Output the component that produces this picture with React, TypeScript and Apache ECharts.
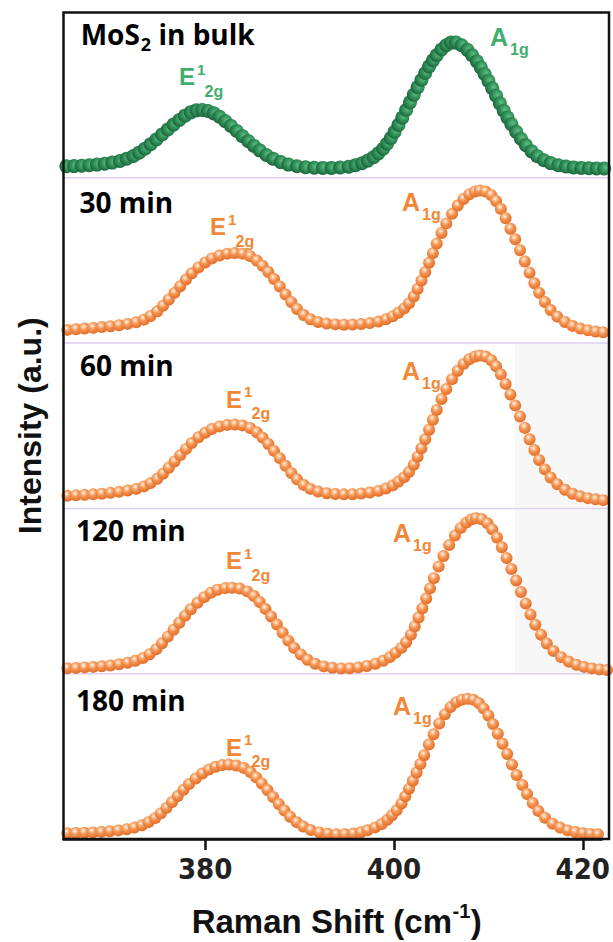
import React, { useEffect, useRef } from "react";
import * as echarts from "echarts";

// ---------- data ----------
const X_MIN = 365;
const X_MAX = 422;
const xTickValues = [380, 400, 420];
const panelLabels = ["MoS2 in bulk", "30 min", "60 min", "120 min", "180 min"];

const bulk: number[][] = [
  [365.3, 7], [366.1, 7.1], [366.9, 7.3], [367.7, 7.6], [368.5, 8], [369.3, 8.5], [370.1, 9.2], [370.9, 10.2], [371.6, 11.5], [372.3, 13.2],
  [372.9, 15.2], [373.5, 17.6], [374.1, 20.3], [374.7, 23.2], [375.3, 26.2], [375.9, 29.2], [376.5, 32.2], [377.1, 35], [377.7, 37.6], [378.3, 39.6], [378.9, 40.8], [379.5, 41],
  [380.1, 40.4], [380.7, 39], [381.3, 36.9], [381.9, 34.3], [382.5, 31.4], [383.1, 28.3], [383.7, 25.2], [384.3, 22.2], [384.9, 19.3], [385.5, 16.6], [386.2, 13.8], [386.9, 11.5], [387.7, 9.5], [388.5, 8], [389.4, 7],
  [390.3, 6.4], [391.2, 6.1], [392.1, 6], [393.0, 6], [393.9, 6.2], [394.8, 6.7],
  [395.5, 7.6], [396.2, 8.8], [396.8, 10.4], [397.4, 12.4], [397.9, 14.8], [398.4, 17.6], [398.8, 20.6], [399.2, 24], [399.6, 27.8], [400.0, 32], [400.4, 36.4], [400.8, 41], [401.2, 45.6], [401.6, 50.2], [402.0, 54.8], [402.4, 59.2], [402.8, 63.4], [403.2, 67.4], [403.6, 71], [404.0, 74.2], [404.5, 77.6], [405.0, 80.2], [405.5, 81.8], [406.0, 81.8],
  [406.6, 80.2], [407.2, 77.4], [407.7, 74.2], [408.2, 70.4], [408.6, 66.8], [409.0, 62.8], [409.4, 58.6], [409.8, 54.2], [410.2, 49.6], [410.6, 45], [411.0, 40.6], [411.4, 36.4], [411.8, 32.4], [412.3, 27.8], [412.8, 23.6], [413.3, 19.8], [413.9, 16], [414.5, 13], [415.2, 10.6], [415.9, 8.9], [416.7, 7.6], [417.5, 6.8], [418.3, 6.3], [419.1, 6], [419.9, 5.8], [420.7, 5.7], [421.5, 5.6],
];

const min30: number[][] = [
  [365.4, 8], [366.3, 8.4], [367.2, 8.8], [368.1, 9.2], [369.0, 9.7], [369.9, 10.2], [370.8, 10.8], [371.7, 11.6], [372.6, 12.6], [373.4, 14.2], [374.1, 16.4], [374.8, 19.2],
  [375.4, 22.6], [376.0, 26.4], [376.6, 30.4], [377.2, 34.4], [377.8, 38.4], [378.4, 42.2], [379.1, 45.8], [379.8, 48.8], [380.5, 51.2], [381.3, 53], [382.1, 54.1], [382.9, 54.5],
  [383.7, 54.1], [384.5, 52.6], [385.2, 50], [385.8, 46.8], [386.4, 43], [387.0, 38.8], [387.6, 34.2], [388.2, 29.4], [388.8, 24.8], [389.4, 20.6], [390.1, 17], [390.8, 14.4], [391.6, 12.8],
  [392.5, 11.8], [393.4, 11.3], [394.3, 11.1], [395.2, 11.2], [396.1, 11.5], [397.0, 12.1], [397.9, 13], [398.7, 14.4], [399.4, 16.2], [400.0, 18.4], [400.6, 21],
  [401.1, 24], [401.6, 28.2], [402.0, 32.8], [402.4, 37.8], [402.8, 43], [403.2, 48.6], [403.6, 54.4], [404.0, 60.2], [404.5, 66.6], [405.0, 72.4], [405.6, 78.2], [406.2, 83.2], [406.8, 87.2], [407.4, 90], [408.0, 91.7], [408.5, 92.3],
  [409.1, 91.7], [409.7, 89.5], [410.2, 86], [410.7, 81.2], [411.2, 75.5], [411.7, 69.2], [412.2, 62.8], [412.7, 56.2], [413.2, 49.4], [413.7, 42.6], [414.2, 36.2], [414.7, 30.4], [415.3, 24.8], [415.9, 20], [416.6, 16], [417.4, 12.8], [418.2, 10.4], [419.0, 8.8], [419.8, 7.7], [420.6, 7], [421.4, 6.5],
];

const min60: number[][] = [
  [365.4, 7.6], [366.3, 7.9], [367.2, 8.2], [368.1, 8.5], [369.0, 8.9], [369.9, 9.4], [370.8, 10], [371.7, 10.8], [372.6, 11.8], [373.4, 13.3], [374.1, 15.3], [374.8, 17.9],
  [375.4, 21], [376.0, 24.6], [376.6, 28.4], [377.2, 32.2], [377.8, 36], [378.4, 39.6], [379.1, 43], [379.8, 45.8], [380.5, 48], [381.3, 49.6], [382.1, 50.5], [382.9, 50.7],
  [383.7, 50.2], [384.5, 48.6], [385.2, 46], [385.8, 42.8], [386.4, 39], [387.0, 34.8], [387.6, 30.4], [388.2, 25.8], [388.8, 21.4], [389.4, 17.6], [390.1, 14.2], [390.8, 11.8], [391.6, 10.2],
  [392.5, 9.2], [393.4, 8.7], [394.3, 8.5], [395.2, 8.6], [396.1, 9], [397.0, 9.6], [397.9, 10.6], [398.7, 12], [399.4, 13.9], [400.0, 16.2], [400.6, 18.9],
  [401.1, 22], [401.6, 26.4], [402.0, 31.2], [402.4, 36.4], [402.8, 41.8], [403.2, 47.6], [403.6, 53.6], [404.0, 59.6], [404.5, 66.2], [405.0, 72.2], [405.6, 78.2], [406.2, 83.3], [406.8, 87.4], [407.4, 90.2], [408.0, 91.9], [408.5, 92.5],
  [409.1, 91.9], [409.7, 89.6], [410.2, 86], [410.7, 81.1], [411.2, 75.3], [411.7, 68.9], [412.2, 62.3], [412.7, 55.6], [413.2, 48.7], [413.7, 41.8], [414.2, 35.3], [414.7, 29.3], [415.3, 23.6], [415.9, 18.7], [416.6, 14.6], [417.4, 11.3], [418.2, 8.9], [419.0, 7.3], [419.8, 6.2], [420.6, 5.5], [421.4, 5],
];

const min120: number[][] = [
  [365.4, 3.3], [366.3, 3.5], [367.2, 3.8], [368.1, 4.1], [369.0, 4.5], [369.9, 5], [370.8, 5.7], [371.7, 6.6], [372.5, 7.8], [373.3, 9.5], [374.0, 11.8], [374.7, 14.8],
  [375.3, 18.4], [375.9, 22.4], [376.5, 26.6], [377.1, 30.8], [377.7, 35], [378.3, 39], [379.0, 42.9], [379.7, 46.3], [380.4, 49], [381.1, 50.8], [381.9, 51.8], [382.6, 52],
  [383.4, 51.5], [384.2, 49.8], [384.9, 47], [385.5, 43.4], [386.1, 39.2], [386.7, 34.6], [387.3, 29.8], [387.9, 24.8], [388.5, 20], [389.1, 15.6], [389.8, 11.6], [390.5, 8.4], [391.3, 6],
  [392.2, 4.4], [393.1, 3.6], [394.0, 3.2], [394.9, 3.3], [395.8, 3.8], [396.7, 4.7], [397.6, 6], [398.4, 7.8], [399.1, 10], [399.7, 12.6], [400.3, 15.6],
  [400.8, 19], [401.3, 23.6], [401.7, 28.6], [402.1, 34], [402.5, 39.6], [402.9, 45.5], [403.3, 51.6], [403.7, 57.8], [404.2, 64.8], [404.7, 71.2], [405.3, 77.8], [405.9, 83.6], [406.5, 88.2], [407.1, 91.4], [407.6, 93.3], [408.1, 94],
  [408.7, 93.4], [409.3, 91], [409.8, 87.3], [410.3, 82.4], [410.8, 76.5], [411.3, 70], [411.8, 63.3], [412.3, 56.4], [412.8, 49.4], [413.3, 42.4], [413.8, 35.8], [414.3, 29.6], [414.9, 23.6], [415.5, 18.3], [416.2, 13.8], [417.0, 10], [417.8, 7.3], [418.6, 5.4], [419.4, 4.1], [420.2, 3.2], [421.0, 2.6], [421.8, 2.2],
];

const min180: number[][] = [
  [365.4, 3.5], [366.3, 3.6], [367.2, 3.8], [368.1, 4], [369.0, 4.3], [369.9, 4.7], [370.8, 5.2], [371.7, 5.9], [372.5, 6.9], [373.3, 8.3], [374.0, 10.2], [374.7, 12.6],
  [375.3, 15.5], [375.9, 18.8], [376.5, 22.4], [377.1, 26], [377.7, 29.7], [378.3, 33.2], [379.0, 36.6], [379.7, 39.6], [380.4, 42], [381.1, 43.7], [381.8, 44.7], [382.5, 45],
  [383.3, 44.5], [384.1, 43], [384.8, 40.5], [385.4, 37.3], [386.0, 33.6], [386.6, 29.6], [387.2, 25.4], [387.8, 21.2], [388.4, 17.2], [389.0, 13.5], [389.7, 10.2], [390.4, 7.5], [391.2, 5.4],
  [392.1, 4], [393.0, 3.2], [393.9, 2.8], [394.8, 2.9], [395.7, 3.3], [396.5, 4.1], [397.2, 5.3], [398.0, 7], [398.7, 9.1], [399.3, 11.6], [399.8, 14.4],
  [400.3, 17.5], [400.8, 21.5], [401.2, 25.8], [401.6, 30.4], [402.0, 35.2], [402.4, 40.2], [402.8, 45.4], [403.2, 50.7], [403.7, 57.2], [404.2, 63.4], [404.8, 69.8], [405.4, 75.4], [406.0, 79.8], [406.6, 82.8], [407.2, 84.3], [407.8, 84.8],
  [408.4, 84.3], [409.0, 82.2], [409.5, 79], [410.0, 74.7], [410.5, 69.5], [411.0, 63.7], [411.5, 57.6], [412.0, 51.4], [412.5, 45], [413.0, 38.7], [413.6, 32.7], [414.1, 27.2], [414.7, 21.8], [415.3, 17], [416.0, 12.8], [416.8, 9.3], [417.6, 6.9], [418.4, 5.2], [419.2, 4.2], [420.0, 3.5], [420.8, 3.1], [421.6, 2.9],
];

const panelData = [bulk, min30, min60, min120, min180];

// ---------- layout ----------
const PLOT_LEFT = 63.5;
const PLOT_RIGHT = 609;
const PLOT_TOP = 12.5;
const PLOT_BOTTOM = 839;
const PANEL_H = (PLOT_BOTTOM - PLOT_TOP) / 5;

const GREEN_LABEL = "#3fae6e";
const ORANGE_LABEL = "#f08838";
const SANS = '"Liberation Sans", Arial, sans-serif';
const TITLE_FONT_FAMILY = '"Open Sans", "Noto Sans", sans-serif';

function textEl(text: string, x: number, y: number, font: string, fill: string, align = "left", z = 50, extra: any = {}) {
  return {
    type: "text",
    x,
    y,
    z,
    silent: true,
    ...extra,
    style: {
      text,
      font,
      fill,
      align,
      verticalAlign: "middle",
      textAlign: align,
      textVerticalAlign: "middle",
    },
  };
}

export default function App() {
  const ref = useRef<HTMLDivElement>(null);

  useEffect(() => {
    document.body.style.margin = "0";
    const chart = echarts.init(ref.current!, null, { renderer: "svg" });

    const ctx = document.createElement("canvas").getContext("2d")!;
    const tw = (t: string, font: string) => {
      ctx.font = font;
      return ctx.measureText(t).width;
    };

    const orangeBall = new echarts.graphic.RadialGradient(0.42, 0.33, 0.64, [
      { offset: 0, color: "#fff6ee" },
      { offset: 0.2, color: "#fbcaa2" },
      { offset: 0.5, color: "#f49352" },
      { offset: 1, color: "#e3702a" },
    ]);
    const greenBall = new echarts.graphic.RadialGradient(0.6, 0.42, 0.62, [
      { offset: 0, color: "#62bd88" },
      { offset: 0.45, color: "#37985f" },
      { offset: 1, color: "#1a633a" },
    ]);

    const grids: any[] = [];
    const xAxes: any[] = [];
    const yAxes: any[] = [];
    const series: any[] = [];

    for (let i = 0; i < 5; i++) {
      grids.push({
        left: PLOT_LEFT,
        width: PLOT_RIGHT - PLOT_LEFT,
        top: PLOT_TOP + i * PANEL_H,
        height: PANEL_H,
        containLabel: false,
      });
      const isBottom = i === 4;
      xAxes.push({
        gridIndex: i,
        type: "value",
        min: X_MIN,
        max: X_MAX,
        show: isBottom,
        splitLine: { show: false },
        axisLine: { show: isBottom, lineStyle: { color: "#111", width: 2.5 } },
        axisTick: {
          show: isBottom,
          inside: false,
          length: 11,
          customValues: xTickValues,
          lineStyle: { color: "#111", width: 2.5 },
        },
        axisLabel: {
          show: isBottom,
          customValues: xTickValues,
          margin: 15,
          fontSize: 29,
          fontWeight: "bold",
          fontFamily: '"Liberation Sans Narrow", "DejaVu Sans Condensed", sans-serif',
          color: "#222",
        },
      });
      yAxes.push({
        gridIndex: i,
        type: "value",
        min: 0,
        max: 100,
        show: false,
        splitLine: { show: false },
      });
      series.push({
        type: "scatter",
        xAxisIndex: i,
        yAxisIndex: i,
        data: panelData[i],
        symbol: "circle",
        symbolSize: i === 0 ? 14 : 12,
        silent: true,
        z: 3,
        itemStyle: { color: i === 0 ? greenBall : orangeBall, opacity: 1 },
        emphasis: { disabled: true },
      });
    }

    const graphics: any[] = [];

    // faint gray backgrounds (60 min, 120 min panels, right part)
    [2, 3].forEach((i) => {
      graphics.push({
        type: "rect",
        z: 0,
        silent: true,
        shape: { x: 515, y: PLOT_TOP + i * PANEL_H + 1, width: PLOT_RIGHT - 515, height: PANEL_H - 2 },
        style: { fill: "#f7f7f7" },
      });
    });

    // panel separators
    for (let i = 1; i < 5; i++) {
      const y = PLOT_TOP + i * PANEL_H;
      graphics.push({
        type: "line",
        z: 1,
        silent: true,
        shape: { x1: PLOT_LEFT, y1: y, x2: PLOT_RIGHT, y2: y },
        style: { stroke: "#dccff3", lineWidth: 1.5 },
      });
    }

    // frame
    graphics.push({
      type: "rect",
      z: 100,
      silent: true,
      shape: { x: PLOT_LEFT, y: PLOT_TOP, width: PLOT_RIGHT - PLOT_LEFT, height: PLOT_BOTTOM - PLOT_TOP },
      style: { fill: "none", stroke: "#111", lineWidth: 2.5 },
    });

    // panel titles
    const tFont = `bold 28px ${TITLE_FONT_FAMILY}`;
    const tSubFont = `bold 18px ${TITLE_FONT_FAMILY}`;
    {
      const x0 = 80.7;
      const cy = 34;
      const w1 = tw("MoS", tFont);
      graphics.push(textEl("MoS", x0, cy, tFont, "#000"));
      graphics.push(textEl("2", x0 + w1 + 1, cy + 10, tSubFont, "#000"));
      const w2 = tw("2", tSubFont);
      graphics.push(textEl(" in bulk", x0 + w1 + 1 + w2, cy, tFont, "#000"));
    }
    const titlePos = [
      [0, 0],
      [79.5, 201.5],
      [80, 364.5],
      [76, 529.5],
      [76, 700],
    ];
    for (let i = 1; i < 5; i++) {
      graphics.push(textEl(panelLabels[i], titlePos[i][0], titlePos[i][1], tFont, "#000"));
    }

    // peak labels
    const bigFont = `bold 24px ${SANS}`;
    const aFont = `bold 25px ${SANS}`;
    const supFont = `bold 15px ${SANS}`;
    const subFont = `bold 16px ${SANS}`;
    const addE = (ex: number, ecy: number, color: string) => {
      graphics.push(textEl("E", ex, ecy, bigFont, color));
      graphics.push(textEl("1", ex + 18, ecy - 7.5, supFont, color));
      graphics.push(textEl("2g", ex + 25.5, ecy + 14.5, subFont, color));
    };
    const addA = (ax: number, acy: number, color: string) => {
      graphics.push(textEl("A", ax, acy, aFont, color));
      graphics.push(textEl("1g", ax + 20, acy + 13, subFont, color));
    };
    addE(179, 76.5, GREEN_LABEL);
    addA(490, 36.7, GREEN_LABEL);
    const ePos = [
      [210, 226.5],
      [226, 399],
      [226, 560.5],
      [226, 747],
    ];
    const aPos = [
      [402, 201.5],
      [402, 370.5],
      [393, 532.5],
      [393, 705.5],
    ];
    for (let k = 0; k < 4; k++) {
      addE(ePos[k][0], ePos[k][1], ORANGE_LABEL);
      addA(aPos[k][0], aPos[k][1], ORANGE_LABEL);
    }

    // axis titles
    const axFont = `bold 33px ${SANS}`;
    const axSupFont = `bold 20px ${SANS}`;
    const p1 = "Raman Shift (cm";
    const p2 = "-1";
    const p3 = ")";
    const w1 = tw(p1, axFont);
    const w2 = tw(p2, axSupFont);
    const w3 = tw(p3, axFont);
    const cx = (PLOT_LEFT + PLOT_RIGHT) / 2;
    const start = cx - (w1 + w2 + w3) / 2;
    const titleY = 921;
    graphics.push(textEl(p1, start, titleY, axFont, "#111"));
    graphics.push(textEl(p2, start + w1 + 0.5, titleY - 10, axSupFont, "#111"));
    graphics.push(textEl(p3, start + w1 + w2 + 1, titleY, axFont, "#111"));

    graphics.push(
      textEl("Intensity (a.u.)", 30, (PLOT_TOP + PLOT_BOTTOM) / 2, `bold 32px ${SANS}`, "#111", "center", 50, {
        rotation: Math.PI / 2,
      })
    );

    const option: any = {
      animation: false,
      backgroundColor: "#ffffff",
      grid: grids,
      xAxis: xAxes,
      yAxis: yAxes,
      series,
      graphic: graphics,
    };
    chart.setOption(option);
    return () => chart.dispose();
  }, []);

  return <div ref={ref} style={{ width: 613, height: 942 }} />;
}
